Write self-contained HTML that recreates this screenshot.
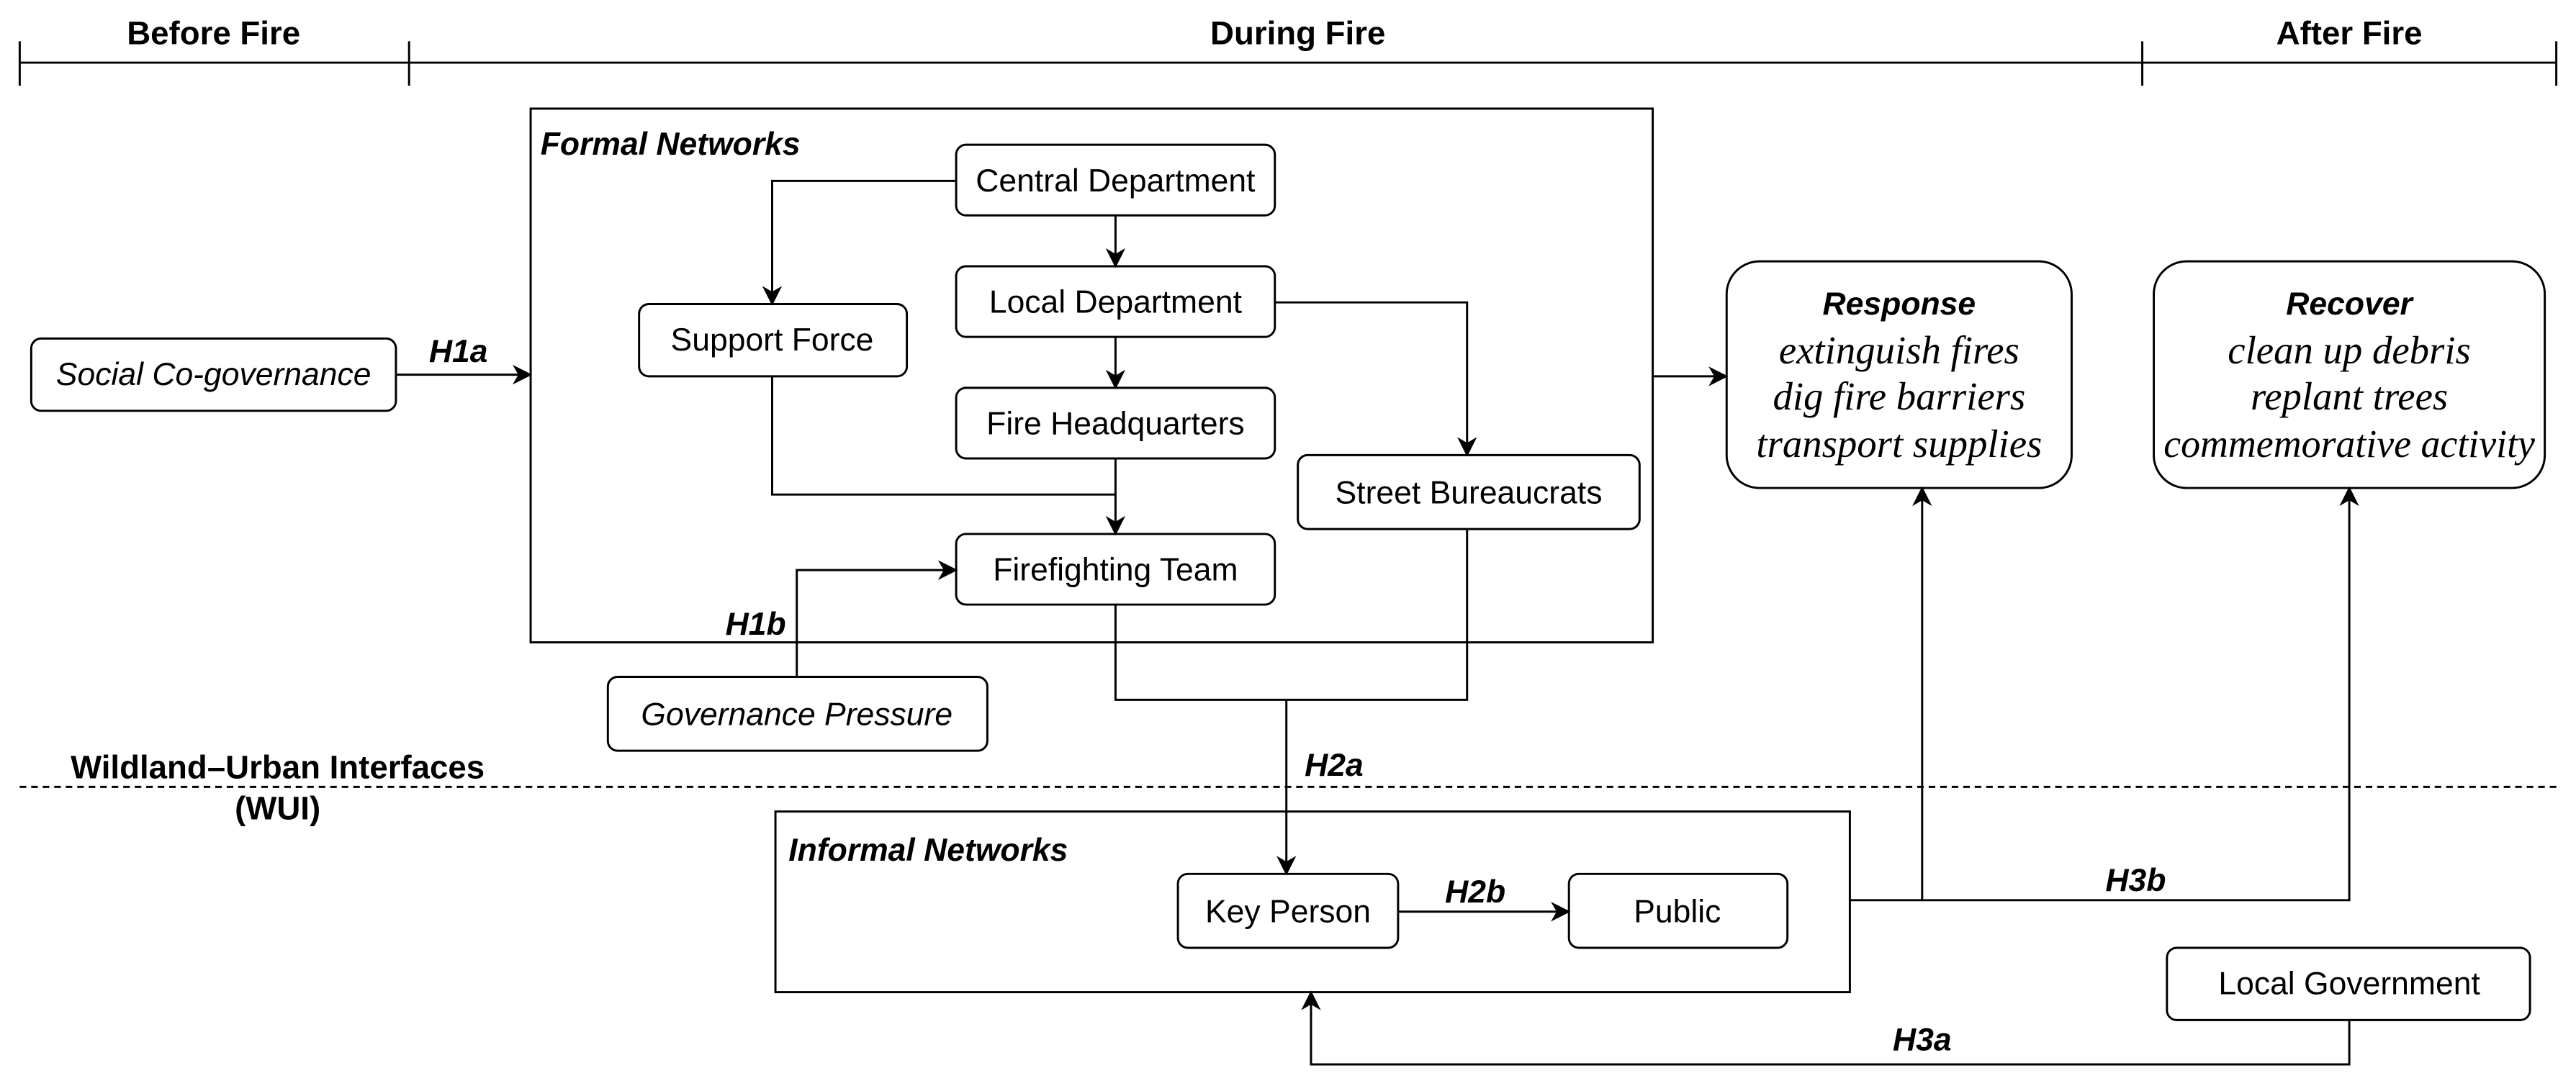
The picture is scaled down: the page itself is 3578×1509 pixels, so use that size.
<!DOCTYPE html>
<html><head><meta charset="utf-8"><style>
html,body{margin:0;padding:0;background:#fff;}
svg{display:block}
text{font-family:"Liberation Sans",sans-serif;fill:#000}
.n{font-size:19.5px;text-anchor:middle;dominant-baseline:central}
.i{font-style:italic}
.b{font-weight:bold}
.t{font-size:20px}
.s{font-family:"Liberation Serif",serif;font-style:italic;font-size:24px;text-anchor:middle;dominant-baseline:central}
</style></head><body>
<svg width="3578" height="1509" viewBox="0 0 1568 661" xmlns="http://www.w3.org/2000/svg">
<defs><marker id="a" markerWidth="12" markerHeight="12" refX="11" refY="6" orient="auto" markerUnits="userSpaceOnUse"><path d="M0,0 L12,6 L0,12 L3.5,6 Z" fill="#000"/></marker></defs>
<g stroke="#000" stroke-width="1.3" fill="none">
<line x1="12" y1="38" x2="1556" y2="38"/>
<line x1="12" y1="25" x2="12" y2="52"/><line x1="249" y1="25" x2="249" y2="52"/>
<line x1="1304" y1="25" x2="1304" y2="52"/><line x1="1556" y1="25" x2="1556" y2="52"/>
<line x1="12" y1="479" x2="1556" y2="479" stroke-dasharray="4,3"/>
<rect x="323" y="66" width="683" height="325"/>
<rect x="472" y="494" width="654" height="110"/>
<rect x="582" y="88" width="194" height="43" rx="6"/>
<rect x="582" y="162" width="194" height="43" rx="6"/>
<rect x="582" y="236" width="194" height="43" rx="6"/>
<rect x="582" y="325" width="194" height="43" rx="6"/>
<rect x="389" y="185" width="163" height="44" rx="6"/>
<rect x="790" y="277" width="208" height="45" rx="6"/>
<rect x="19" y="206" width="222" height="44" rx="6"/>
<rect x="370" y="412" width="231" height="45" rx="6"/>
<rect x="1051" y="159" width="210" height="138" rx="20"/>
<rect x="1311" y="159" width="238" height="138" rx="20"/>
<rect x="717" y="532" width="134" height="45" rx="6"/>
<rect x="955" y="532" width="133" height="45" rx="6"/>
<rect x="1319" y="577" width="221" height="44" rx="6"/>
<polyline points="582,110 470,110 470,185" marker-end="url(#a)"/>
<line x1="679" y1="131" x2="679" y2="162" marker-end="url(#a)"/>
<line x1="679" y1="205" x2="679" y2="236" marker-end="url(#a)"/>
<polyline points="776,184 893,184 893,277" marker-end="url(#a)"/>
<polyline points="470,229 470,301 679,301"/>
<line x1="679" y1="279" x2="679" y2="325" marker-end="url(#a)"/>
<polyline points="485,412 485,347 582,347" marker-end="url(#a)"/>
<line x1="241" y1="228" x2="323" y2="228" marker-end="url(#a)"/>
<line x1="1006" y1="229" x2="1051" y2="229" marker-end="url(#a)"/>
<polyline points="679,368 679,426 893,426 893,322"/>
<line x1="783" y1="426" x2="783" y2="532" marker-end="url(#a)"/>
<line x1="851" y1="555" x2="955" y2="555" marker-end="url(#a)"/>
<polyline points="1126,548 1430,548 1430,297" marker-end="url(#a)"/>
<line x1="1170" y1="548" x2="1170" y2="297" marker-end="url(#a)"/>
<polyline points="1430,621 1430,648 798,648 798,604" marker-end="url(#a)"/>
</g>
<text class="n b t" x="130" y="20">Before Fire</text>
<text class="n b t" x="790" y="20">During Fire</text>
<text class="n b t" x="1430" y="20">After Fire</text>
<text class="b i" x="329" y="94" font-size="19.5">Formal Networks</text>
<text class="b i" x="480" y="524" font-size="19.5">Informal Networks</text>
<text class="n" x="679" y="110">Central Department</text>
<text class="n" x="679" y="184">Local Department</text>
<text class="n" x="679" y="258">Fire Headquarters</text>
<text class="n" x="679" y="347">Firefighting Team</text>
<text class="n" x="470" y="207">Support Force</text>
<text class="n" x="894" y="300">Street Bureaucrats</text>
<text class="n i" x="130" y="228">Social Co-governance</text>
<text class="n i" x="485" y="435">Governance Pressure</text>
<text class="n" x="784" y="555">Key Person</text>
<text class="n" x="1021" y="555">Public</text>
<text class="n" x="1430" y="599">Local Government</text>
<text class="n b i" x="1156" y="185">Response</text>
<text class="s" x="1156" y="213">extinguish fires</text>
<text class="s" x="1156" y="241">dig fire barriers</text>
<text class="s" x="1156" y="270">transport supplies</text>
<text class="n b i" x="1430" y="185">Recover</text>
<text class="s" x="1430" y="213">clean up debris</text>
<text class="s" x="1430" y="241">replant trees</text>
<text class="s" x="1430" y="270" textLength="226" lengthAdjust="spacingAndGlyphs">commemorative activity</text>
<text class="n b i" x="279" y="214">H1a</text>
<text class="n b i" x="460" y="380">H1b</text>
<text class="n b i" x="812" y="466">H2a</text>
<text class="n b i" x="898" y="543">H2b</text>
<text class="n b i" x="1300" y="536">H3b</text>
<text class="n b i" x="1170" y="633">H3a</text>
<text class="n b t" x="169" y="467">Wildland–Urban Interfaces</text>
<text class="n b t" x="169" y="492">(WUI)</text>
</svg>
</body></html>
